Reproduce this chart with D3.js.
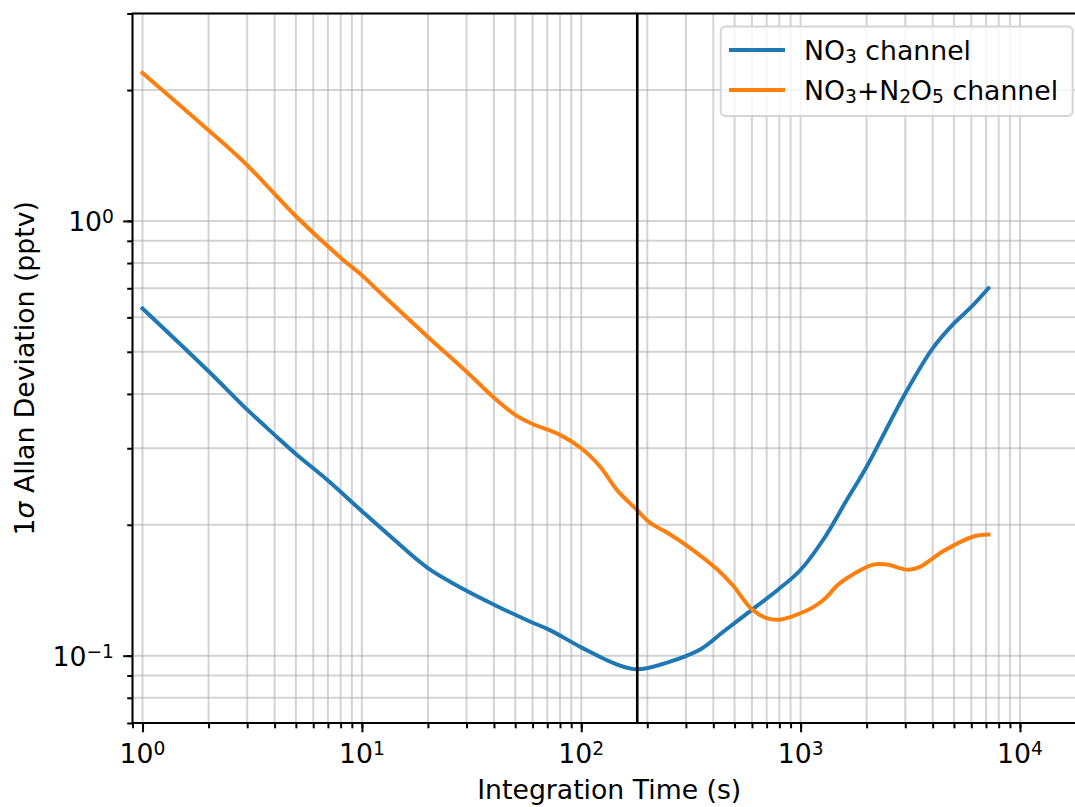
<!DOCTYPE html>
<html>
<head>
<meta charset="utf-8">
<script src="https://cdn.jsdelivr.net/npm/d3@7"></script>
<style>
    body { margin: 0; background: #fff; }
    svg { display: block; }
    text { font-family: "DejaVu Sans", sans-serif; fill: #000; }
</style>
</head>
<body>
<svg id="chart" width="1075" height="807"></svg>
<script>
// NO3 channel: integration time (s) and 1-sigma Allan deviation (pptv)
var no3Tau = [1, 2, 3, 4, 5, 7, 10, 14, 20, 30, 40, 58, 72, 100, 145, 180, 246, 350, 444, 631, 791, 994, 1270, 1623, 2000, 3000, 4000, 5000, 6000, 7180];
var no3Dev = [0.629, 0.451, 0.368, 0.322, 0.291, 0.253, 0.215, 0.185, 0.159, 0.141, 0.131, 0.120, 0.1145, 0.1045, 0.0955, 0.093, 0.0964, 0.1035, 0.1135, 0.130, 0.142, 0.157, 0.185, 0.228, 0.272, 0.401, 0.509, 0.581, 0.634, 0.700];

// NO3+N2O5 channel
var sumTau = [1, 2, 3, 5, 8, 10, 12, 20, 30, 40, 50, 60, 80, 100, 122, 146, 180, 206, 246, 313, 416, 492, 598, 700, 805, 1067, 1190, 1315, 1514, 2148, 2470, 3100, 3500, 4480, 6130, 7180];
var sumDev = [2.19, 1.616, 1.343, 1.025, 0.823, 0.750, 0.687, 0.541, 0.450, 0.392, 0.358, 0.341, 0.322, 0.300, 0.272, 0.240, 0.216, 0.202, 0.192, 0.177, 0.158, 0.145, 0.128, 0.122, 0.121, 0.1270, 0.131, 0.1365, 0.147, 0.162, 0.162, 0.1576, 0.160, 0.174, 0.188, 0.190];

var markerTau = 180;

var xTickExps = [0, 1, 2, 3, 4];
var yTickExps = [-1, 0];

var seriesNames = ['NO3 channel', 'NO3+N2O5 channel'];
var seriesColors = ['#1f77b4', '#ff7f0e'];

(function(){
    'use strict';

    var fs = 26.7,
        subFs = 18.7,
        box = { left: 132.5, top: 13.5, right: 1086, bottom: 723 },
        svg = d3.select( '#chart' );

    var x = d3.scaleLog().domain( [0.9, 20000] ).range( [box.left, box.right] ),
        y = d3.scaleLog().domain( [0.07, 3] ).range( [box.bottom, box.top] );

    function minors( lo, hi, d0, d1 ){
        var out = [], d, k, v;
        for ( d = d0; d <= d1; d++ ){
            for ( k = 1; k <= 9; k++ ){
                v = k * Math.pow( 10, d );
                if ( v >= lo * 0.999 && v <= hi * 1.001 ){ out.push( +v.toPrecision( 6 ) ); }
            }
        }
        return out;
    }

    var xAll = minors( 0.9, 20000, -1, 4 ),
        yAll = minors( 0.07, 3, -2, 0 ),
        xMajor = xTickExps.map(function( e ){ return Math.pow( 10, e ); }),
        yMajor = yTickExps.map(function( e ){ return Math.pow( 10, e ); });

    // grid (major + minor)
    var grid = svg.append( 'g' ).attr( 'class', 'grid' )
        .attr( 'stroke', '#b0b0b0' ).attr( 'stroke-opacity', 0.55 ).attr( 'stroke-width', 2 );

    grid.selectAll( 'line.gx' ).data( xAll ).enter().append( 'line' )
        .attr( 'x1', function( d ){ return x( d ); } )
        .attr( 'x2', function( d ){ return x( d ); } )
        .attr( 'y1', box.top ).attr( 'y2', box.bottom );

    grid.selectAll( 'line.gy' ).data( yAll ).enter().append( 'line' )
        .attr( 'y1', function( d ){ return y( d ); } )
        .attr( 'y2', function( d ){ return y( d ); } )
        .attr( 'x1', box.left ).attr( 'x2', box.right );

    // series
    var line = d3.line()
        .x(function( d ){ return x( d[0] ); })
        .y(function( d ){ return y( d[1] ); })
        .curve( d3.curveCatmullRom.alpha( 0.5 ) );

    var series = [
        d3.zip( no3Tau, no3Dev ),
        d3.zip( sumTau, sumDev )
    ];

    svg.append( 'g' ).selectAll( 'path' ).data( series ).enter().append( 'path' )
        .attr( 'd', line )
        .attr( 'fill', 'none' )
        .attr( 'stroke', function( d, i ){ return seriesColors[i]; } )
        .attr( 'stroke-width', 4 )
        .attr( 'stroke-linecap', 'square' )
        .attr( 'stroke-linejoin', 'round' );

    // marker line
    svg.append( 'line' )
        .attr( 'x1', x( markerTau ) ).attr( 'x2', x( markerTau ) )
        .attr( 'y1', box.top ).attr( 'y2', box.bottom )
        .attr( 'stroke', '#000' ).attr( 'stroke-width', 2.6 );

    // axes ticks
    function tickStyle( g ){
        g.select( '.domain' ).remove();
        g.selectAll( '.tick line' ).attr( 'stroke', '#000' ).attr( 'stroke-width', 2 );
        g.selectAll( '.tick text' ).remove();
    }

    svg.append( 'g' ).attr( 'transform', 'translate(0,' + box.bottom + ')' )
        .call( d3.axisBottom( x ).tickValues( xAll ).tickSize( 5.3 ).tickFormat( '' ) ).call( tickStyle );
    svg.append( 'g' ).attr( 'transform', 'translate(0,' + box.bottom + ')' )
        .call( d3.axisBottom( x ).tickValues( xMajor ).tickSize( 9.3 ).tickFormat( '' ) ).call( tickStyle );
    svg.append( 'g' ).attr( 'transform', 'translate(' + box.left + ',0)' )
        .call( d3.axisLeft( y ).tickValues( yAll ).tickSize( 5.3 ).tickFormat( '' ) ).call( tickStyle );
    svg.append( 'g' ).attr( 'transform', 'translate(' + box.left + ',0)' )
        .call( d3.axisLeft( y ).tickValues( yMajor ).tickSize( 9.3 ).tickFormat( '' ) ).call( tickStyle );

    function powerLabel( sel, exp ){
        sel.append( 'tspan' ).text( '10' );
        sel.append( 'tspan' ).attr( 'dy', -8 ).attr( 'font-size', subFs )
            .text( exp < 0 ? '\u2212' + ( -exp ) : String( exp ) );
    }

    svg.append( 'g' ).selectAll( 'text' ).data( xTickExps ).enter().append( 'text' )
        .attr( 'x', function( d ){ return x( Math.pow( 10, d ) ); } )
        .attr( 'y', 763 )
        .attr( 'font-size', fs )
        .attr( 'text-anchor', 'middle' )
        .each(function( d ){ powerLabel( d3.select( this ), d ); });

    svg.append( 'g' ).selectAll( 'text' ).data( yTickExps ).enter().append( 'text' )
        .attr( 'x', box.left - 18.5 )
        .attr( 'y', function( d ){ return y( Math.pow( 10, d ) ) + 10; } )
        .attr( 'font-size', fs )
        .attr( 'text-anchor', 'end' )
        .each(function( d ){ powerLabel( d3.select( this ), d ); });

    // spines
    svg.append( 'path' )
        .attr( 'd', 'M' + box.right + ',' + box.top + 'H' + box.left + 'V' + box.bottom + 'H' + box.right )
        .attr( 'fill', 'none' ).attr( 'stroke', '#000' ).attr( 'stroke-width', 2 )
        .attr( 'stroke-linecap', 'square' );

    // axis titles
    svg.append( 'text' )
        .attr( 'x', ( box.left + box.right ) / 2 ).attr( 'y', 799 )
        .attr( 'font-size', fs ).attr( 'text-anchor', 'middle' )
        .text( 'Integration Time (s)' );

    var yl = svg.append( 'text' )
        .attr( 'transform', 'translate(34,' + ( box.top + box.bottom ) / 2 + ') rotate(-90)' )
        .attr( 'font-size', fs ).attr( 'text-anchor', 'middle' );
    yl.append( 'tspan' ).text( '1' );
    yl.append( 'tspan' ).attr( 'font-style', 'italic' ).text( '\u03c3' );
    yl.append( 'tspan' ).text( ' Allan Deviation (pptv)' );

    // legend
    var lg = svg.append( 'g' ).attr( 'class', 'legend' );
    lg.append( 'rect' )
        .attr( 'x', 720.7 ).attr( 'y', 26.5 )
        .attr( 'width', 352 ).attr( 'height', 89.5 )
        .attr( 'rx', 5 )
        .attr( 'fill', '#fff' ).attr( 'fill-opacity', 0.8 )
        .attr( 'stroke', '#d5d5d5' ).attr( 'stroke-width', 2 );

    // label pieces: [text, isSubscript]
    var labelParts = [
        [['NO', 0], ['3', 1], [' channel', 0]],
        [['NO', 0], ['3', 1], ['+N', 0], ['2', 1], ['O', 0], ['5', 1], [' channel', 0]]
    ];

    seriesNames.forEach(function( name, i ){
        var cy = 50 + i * 40;
        lg.append( 'line' )
            .attr( 'x1', 731 ).attr( 'x2', 783 )
            .attr( 'y1', cy ).attr( 'y2', cy )
            .attr( 'stroke', seriesColors[i] ).attr( 'stroke-width', 4 )
            .attr( 'stroke-linecap', 'square' );

        var t = lg.append( 'text' )
            .attr( 'x', 804 ).attr( 'y', cy + 9.5 )
            .attr( 'font-size', fs );
        var shifted = false;
        labelParts[i].forEach(function( p ){
            var ts = t.append( 'tspan' ).text( p[0] );
            if ( p[1] ){
                ts.attr( 'font-size', subFs ).attr( 'dy', shifted ? 0 : 3 );
                shifted = true;
            } else {
                ts.attr( 'dy', shifted ? -3 : 0 );
                shifted = false;
            }
        });
    });
})();
</script>
</body>
</html>
